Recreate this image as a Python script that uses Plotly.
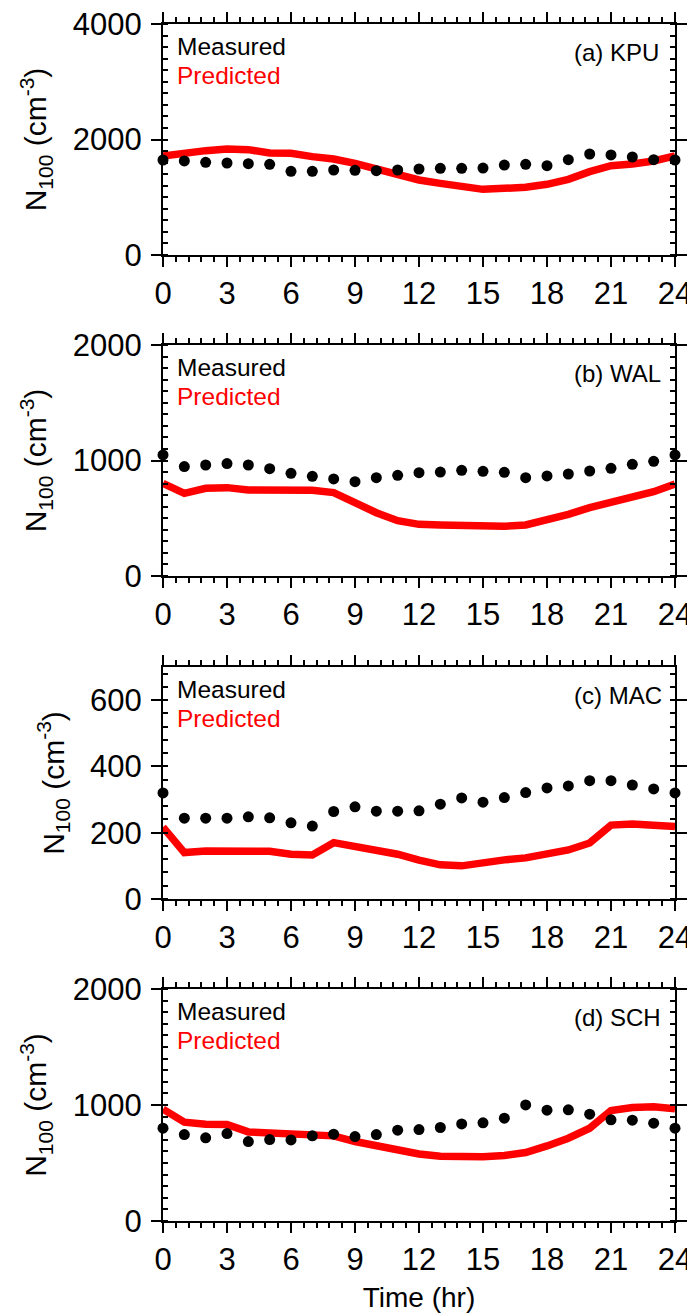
import plotly.graph_objects as go

# ---------------- data ----------------
hours = list(range(25))

kpu_measured = [1645, 1628, 1605, 1593, 1582, 1570, 1449, 1449, 1472, 1466, 1460, 1472, 1489,
                1501, 1501, 1506, 1558, 1570, 1547, 1651, 1749, 1732, 1697, 1651, 1645]
kpu_predicted = [1714, 1772, 1807, 1835, 1824, 1766, 1760, 1703, 1662, 1587, 1483, 1385, 1299,
                 1241, 1200, 1137, 1154, 1172, 1224, 1310, 1443, 1547, 1576, 1628, 1714]

wal_measured = [1048, 947, 961, 973, 961, 929, 889, 863, 840, 817, 851, 872, 895,
                900, 915, 906, 898, 851, 866, 883, 909, 932, 967, 993, 1048]
wal_predicted = [802, 716, 759, 765, 745, 742, 745, 742, 722, 629, 548, 479, 447,
                 442, 433, 427, 430, 442, 485, 534, 592, 638, 693, 730, 797]

mac_measured = [320, 244, 244, 244, 248, 245, 230, 220, 264, 278, 265, 265, 266,
                286, 305, 292, 306, 321, 335, 341, 357, 357, 344, 332, 320]
mac_predicted = [217, 140, 145, 146, 147, 144, 135, 133, 170, 160, 149, 135, 117,
                 103, 100, 111, 118, 124, 134, 148, 169, 223, 226, 225, 219]

sch_measured = [800, 745, 717, 754, 685, 702, 699, 734, 748, 728, 745, 783, 788,
                806, 837, 846, 886, 1001, 955, 958, 921, 872, 869, 843, 800]
sch_predicted = [964, 852, 835, 832, 768, 760, 742, 737, 734, 685, 647, 613, 578,
                 558, 550, 553, 564, 590, 647, 714, 800, 953, 978, 984, 967]

panel_labels = ["(a) KPU", "(b) WAL", "(c) MAC", "(d) SCH"]
measured_sets = [kpu_measured, wal_measured, mac_measured, sch_measured]
predicted_sets = [kpu_predicted, wal_predicted, mac_predicted, sch_predicted]
y_max = [4000, 2000, 700, 2000]
y_major = [2000, 1000, 200, 1000]
y_minor = [200, 100, 40, 100]
x_ticks = [0, 3, 6, 9, 12, 15, 18, 21, 24]

# ---------------- layout geometry (page pixels) ----------------
PAGE_W, PAGE_H = 695, 1313
OFF = 8  # default body margin of the html page
W, H = PAGE_W - OFF, PAGE_H - OFF
left_px, right_px = 163, 675
panel_tops = [24, 345, 667, 989]
panel_bots = [255, 576, 899, 1221]
mt = panel_tops[0] - OFF
mb = PAGE_H - panel_bots[-1]
ml = left_px - OFF
mr = PAGE_W - right_px
plot_h = panel_bots[-1] - panel_tops[0]

FONT = "Liberation Sans, Arial, sans-serif"

fig = go.Figure()
layout_axes = {}
annotations = []

for i in range(4):
    n = i + 1
    xa = "x" if n == 1 else f"x{n}"
    ya = "y" if n == 1 else f"y{n}"
    y0 = (panel_bots[-1] - panel_bots[i]) / plot_h
    y1 = (panel_bots[-1] - panel_tops[i]) / plot_h

    fig.add_trace(go.Scatter(
        x=hours, y=predicted_sets[i], mode="lines",
        line=dict(color="#ff0000", width=7.5),
        xaxis=xa, yaxis=ya, cliponaxis=False, showlegend=False,
    ))
    fig.add_trace(go.Scatter(
        x=hours, y=measured_sets[i], mode="markers",
        marker=dict(color="black", size=11),
        xaxis=xa, yaxis=ya, cliponaxis=False, showlegend=False,
    ))

    common = dict(
        showline=True, linewidth=2, linecolor="black", mirror="allticks",
        ticks="outside", ticklen=10, tickwidth=2, tickcolor="black",
        showgrid=False, zeroline=False, ticklabeloverflow="allow",
        tickfont=dict(family=FONT, size=31, color="black"),
    )
    xkey = "xaxis" if n == 1 else f"xaxis{n}"
    ykey = "yaxis" if n == 1 else f"yaxis{n}"
    layout_axes[xkey] = dict(
        common, domain=[0, 1], anchor=ya, range=[0, 24],
        tickmode="array", tickvals=x_ticks, ticktext=[str(v) for v in x_ticks],
        minor=dict(dtick=0.6, tick0=0, ticks="outside", ticklen=5, tickwidth=1.5,
                   tickcolor="black", showgrid=False),
        title=dict(text="Time (hr)" if n == 4 else "",
                   font=dict(family=FONT, size=28, color="black"), standoff=12),
    )
    layout_axes[ykey] = dict(
        common, domain=[y0, y1], anchor=xa, range=[0, y_max[i]],
        tick0=0, dtick=y_major[i], ticklabelstandoff=3,
        minor=dict(dtick=y_minor[i], tick0=0, ticks="inside", ticklen=5, tickwidth=1.5,
                   tickcolor="black", showgrid=False),
        title=dict(text="N<sub>100</sub> (cm<sup>-3</sup>)",
                   font=dict(family=FONT, size=30, color="black"), standoff=17),
    )

    ph = panel_bots[i] - panel_tops[i]
    annotations.append(dict(
        xref=f"{xa} domain", yref=f"{ya} domain",
        x=12 / (right_px - left_px), y=1 - 22.5 / ph,
        xanchor="left", yanchor="middle", showarrow=False,
        text="Measured", font=dict(family=FONT, size=24.5, color="black"),
    ))
    annotations.append(dict(
        xref=f"{xa} domain", yref=f"{ya} domain",
        x=12 / (right_px - left_px), y=1 - 51 / ph,
        xanchor="left", yanchor="middle", showarrow=False,
        text="Predicted", font=dict(family=FONT, size=24.5, color="#ff0000"),
    ))
    annotations.append(dict(
        xref=f"{xa} domain", yref=f"{ya} domain",
        x=(572 - left_px) / (right_px - left_px), y=1 - 28 / ph,
        xanchor="left", yanchor="middle", showarrow=False,
        text=panel_labels[i], font=dict(family=FONT, size=24, color="black"),
    ))

fig.update_layout(
    width=W, height=H,
    margin=dict(l=ml, r=mr, t=mt, b=mb, autoexpand=False),
    paper_bgcolor="white", plot_bgcolor="white",
    font=dict(family=FONT, color="black"),
    annotations=annotations,
    **layout_axes,
)

fig.write_html("out.html")
